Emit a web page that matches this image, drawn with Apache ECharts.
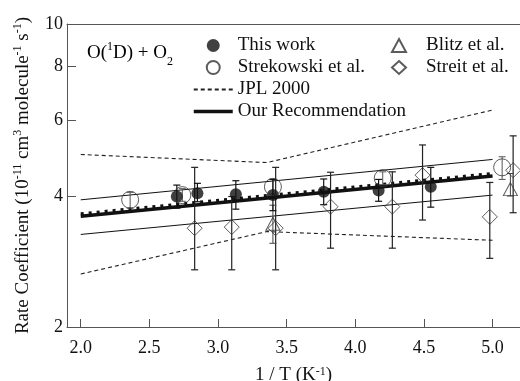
<!DOCTYPE html>
<html>
<head>
<meta charset="utf-8">
<script src="https://cdn.jsdelivr.net/npm/echarts@6/dist/echarts.min.js"></script>
<style>
  html, body { margin: 0; padding: 0; background: #fff; }
  #chart { width: 520px; height: 381px; }
</style>
</head>
<body>
<div id="chart"></div>
<script>
// O(1D) + O2 rate coefficient vs 1000/T, units of 1e-11 cm3 molecule-1 s-1

// Axis ticks
const xTicks = [2.0, 2.5, 3.0, 3.5, 4.0, 4.5, 5.0];
const yTicks = [2, 4, 6, 8, 10];

// This work (filled circles)
const thisWorkX  = [2.70, 2.85, 3.13, 3.40, 3.77, 4.17, 4.55];
const thisWorkK  = [4.00, 4.07, 4.05, 4.03, 4.10, 4.13, 4.21];
const thisWorkLo = [3.76, 3.89, 3.74, 3.71, 3.83, 3.90, 3.78];
const thisWorkHi = [4.25, 4.29, 4.35, 4.38, 4.39, 4.38, 4.67];

// Strekowski et al. (open circles)
const strekX  = [2.36, 2.74, 3.40, 4.20, 5.07];
const strekK  = [3.93, 4.03, 4.21, 4.41, 4.67];
const strekLo = [3.76, 3.90, 4.05, 4.26, 4.38];
const strekHi = [4.09, 4.17, 4.38, 4.56, 4.94];

// Blitz et al. (open triangles)
const blitzX  = [3.40, 5.13];
const blitzK  = [3.46, 4.16];
const blitzLo = [3.12, 4.01];
const blitzHi = [3.82, 4.52];

// Streit et al. (open diamonds)
const streitX  = [2.83, 3.10, 3.42, 3.82, 4.27, 4.49, 4.98, 5.15];
const streitK  = [3.38, 3.40, 3.38, 3.79, 3.79, 4.48, 3.59, 4.60];
const streitLo = [2.71, 2.71, 2.71, 3.04, 3.04, 3.53, 2.88, 3.67];
const streitHi = [4.67, 4.00, 4.67, 4.55, 4.56, 5.26, 4.31, 5.52];

// JPL 2000 evaluation: central line and uncertainty envelope (kink at 298 K)
const jplX      = [2.0, 5.0];
const jplK      = [3.65, 4.52];
const jplBandX  = [2.0, 3.356, 5.0];
const jplUpper  = [5.00, 4.79, 6.33];
const jplLower  = [2.65, 3.32, 3.17];

// Recommended expression and its uncertainty limits
const recX     = [2.0, 5.0];
const recK     = [3.60, 4.46];
const recUpper = [3.93, 4.87];
const recLower = [3.27, 4.03];

const FONT = '"Liberation Serif", "Times New Roman", serif';
const INK = '#111';
const AXIS = '#555';

const zip = (xs, ys) => xs.map((x, i) => [x, ys[i]]);
const zip3 = (xs, a, b) => xs.map((x, i) => [x, a[i], b[i]]);

function errorBars(color, width) {
  return function (params, api) {
    const x = api.value(0);
    const top = api.coord([x, api.value(2)]);
    const bot = api.coord([x, api.value(1)]);
    const hw = 3.5;
    const style = { stroke: color, lineWidth: width };
    return {
      type: 'group',
      children: [
        { type: 'line', shape: { x1: top[0], y1: top[1], x2: bot[0], y2: bot[1] }, style },
        { type: 'line', shape: { x1: top[0] - hw, y1: top[1], x2: top[0] + hw, y2: top[1] }, style },
        { type: 'line', shape: { x1: bot[0] - hw, y1: bot[1], x2: bot[0] + hw, y2: bot[1] }, style }
      ]
    };
  };
}

const openStyle = { color: 'rgba(0,0,0,0)', borderColor: '#333', borderWidth: 1 };
const legendText = { fontFamily: FONT, fontSize: 19, lineHeight: 19, color: INK };
const noMarker = { opacity: 0 };

const chart = echarts.init(document.getElementById('chart'), null, { renderer: 'canvas' });

chart.setOption({
  animation: false,
  backgroundColor: '#fff',
  grid: { left: 67, right: 0, top: 24, bottom: 54, containLabel: false, outerBoundsMode: 'none' },
  xAxis: [{
    type: 'value', min: 1.9, max: 5.2,
    axisLine: { show: true, lineStyle: { color: AXIS, width: 1 } },
    axisTick: { show: true, inside: true, length: 8, customValues: xTicks, lineStyle: { color: AXIS } },
    axisLabel: { customValues: xTicks, formatter: v => v.toFixed(1), margin: 12,
                 fontFamily: FONT, fontSize: 18, color: INK },
    splitLine: { show: false },
    name: '1 / T (K{sup|-1})', nameLocation: 'middle', nameGap: 39,
    nameTextStyle: { fontFamily: FONT, fontSize: 19, color: INK,
      rich: { sup: { fontFamily: FONT, fontSize: 12, color: INK, verticalAlign: 'top', lineHeight: 12 } } }
  }, {
    type: 'value', min: 1.9, max: 5.2, position: 'top',
    axisLine: { show: true, lineStyle: { color: AXIS, width: 1 } },
    axisTick: { show: false }, axisLabel: { show: false }, splitLine: { show: false }
  }],
  yAxis: {
    type: 'log', logBase: 10, min: 2, max: 10,
    axisLine: { show: true, lineStyle: { color: AXIS, width: 1 } },
    axisTick: { show: true, inside: true, length: 9, customValues: yTicks, lineStyle: { color: AXIS } },
    axisLabel: { customValues: yTicks, margin: 4, fontFamily: FONT, fontSize: 18, color: INK },
    splitLine: { show: false },
    minorTick: { show: false },
    name: 'Rate Coefficient (10{sup|-11} cm{sup|3} molecule{sup|-1} s{sup|-1})',
    nameLocation: 'middle', nameRotate: 90, nameGap: 31,
    nameTextStyle: { fontFamily: FONT, fontSize: 19, color: INK, lineHeight: 22,
      rich: { sup: { fontFamily: FONT, fontSize: 12, color: INK, verticalAlign: 'top', lineHeight: 12 } } }
  },
  legend: [{
    data: ['This work', 'Strekowski et al.',
           { name: 'JPL 2000', itemStyle: noMarker },
           { name: 'Our Recommendation', itemStyle: noMarker, lineStyle: { width: 3.5, color: '#111' } }],
    orient: 'vertical', left: 192, top: 36, padding: 0,
    itemWidth: 39, itemHeight: 13, itemGap: 3,
    selectedMode: false,
    textStyle: legendText
  }, {
    data: ['Blitz et al.', 'Streit et al.'],
    orient: 'vertical', left: 391, top: 36, padding: 0,
    itemWidth: 14, itemHeight: 13, itemGap: 3,
    selectedMode: false,
    textStyle: Object.assign({ padding: [0, 0, 0, 15] }, legendText)
  }],
  graphic: [{
    type: 'text', left: 87, top: 41, silent: true,
    style: {
      text: '{m|O(}{s|1}{m|D) + O}{b|2}',
      rich: {
        m: { fontFamily: FONT, fontSize: 19, color: INK, lineHeight: 24, verticalAlign: 'middle' },
        s: { fontFamily: FONT, fontSize: 12, color: INK, lineHeight: 24, verticalAlign: 'top' },
        b: { fontFamily: FONT, fontSize: 12, color: INK, lineHeight: 24, verticalAlign: 'bottom', padding: [0, 0, -3, 0] }
      }
    }
  }],
  series: [
    // JPL 2000 envelope (dashed)
    { name: 'JPL 2000', type: 'line', data: zip(jplBandX, jplUpper), symbol: 'none', z: 2,
      itemStyle: { color: '#222' }, lineStyle: { color: '#222', width: 1.1, type: [4, 3] } },
    { name: 'JPL 2000', type: 'line', data: zip(jplBandX, jplLower), symbol: 'none', z: 2,
      itemStyle: { color: '#222' }, lineStyle: { color: '#222', width: 1.1, type: [4, 3] } },
    // Recommendation limits (thin solid)
    { name: 'Rec upper', type: 'line', data: zip(recX, recUpper), symbol: 'none', z: 2,
      itemStyle: { color: '#111' }, lineStyle: { color: '#111', width: 1 } },
    { name: 'Rec lower', type: 'line', data: zip(recX, recLower), symbol: 'none', z: 2,
      itemStyle: { color: '#111' }, lineStyle: { color: '#111', width: 1 } },
    // JPL 2000 central expression (dotted)
    { name: 'JPL 2000', type: 'line', data: zip(jplX, jplK), symbol: 'none', z: 3,
      itemStyle: { color: '#111' }, lineStyle: { color: '#111', width: 3, type: [3, 5] } },
    // Recommended expression (thick)
    { name: 'Our Recommendation', type: 'line', data: zip(recX, recK), symbol: 'none', z: 3,
      itemStyle: { color: '#111' }, lineStyle: { color: '#111', width: 3.5 } },

    // Error bars
    { type: 'custom', renderItem: errorBars('#222', 1.2), data: zip3(streitX, streitLo, streitHi), z: 4, silent: true },
    { type: 'custom', renderItem: errorBars('#444', 1), data: zip3(blitzX, blitzLo, blitzHi), z: 4, silent: true },
    { type: 'custom', renderItem: errorBars('#555', 1), data: zip3(strekX, strekLo, strekHi), z: 4, silent: true },
    { type: 'custom', renderItem: errorBars('#111', 1.2), data: zip3(thisWorkX, thisWorkLo, thisWorkHi), z: 4, silent: true },

    // Measurements
    { name: 'Streit et al.', type: 'scatter', data: zip(streitX, streitK), symbol: 'diamond', symbolSize: [15, 15],
      symbolKeepAspect: true, z: 5, itemStyle: openStyle },
    { name: 'Blitz et al.', type: 'scatter', data: zip(blitzX, blitzK), symbol: 'triangle', symbolSize: [14, 13],
      symbolKeepAspect: true, z: 5, itemStyle: openStyle },
    { name: 'This work', type: 'scatter', data: zip(thisWorkX, thisWorkK), symbol: 'circle', symbolSize: 12, z: 6,
      itemStyle: { color: '#111' } },
    { name: 'Strekowski et al.', type: 'scatter', data: zip(strekX, strekK), symbol: 'circle', symbolSize: 17, z: 7,
      itemStyle: openStyle }
  ]
});
</script>
</body>
</html>
